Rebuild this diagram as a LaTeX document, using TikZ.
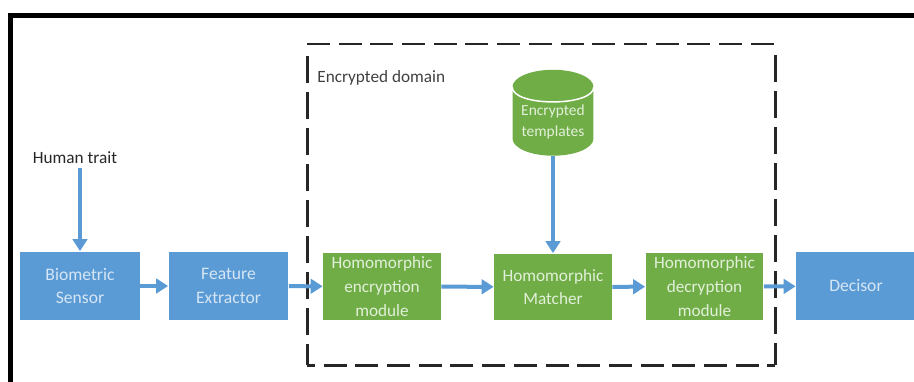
\documentclass[tikz,border=0pt]{standalone}
\usepackage{fontspec}
\setmainfont{Carlito}
\usetikzlibrary{arrows.meta,shapes.geometric}
\definecolor{boxblue}{HTML}{5B9BD5}
\definecolor{boxgreen}{HTML}{70AD47}
\definecolor{lightblue}{HTML}{D6E6F5}
\definecolor{lightgreen}{HTML}{E2F0D9}
\tikzset{
  bluebox/.style={fill=boxblue,text=lightblue,minimum height=1.38cm,minimum width=2.4cm,align=center,inner sep=0pt,font=\fontsize{10}{13.6}\selectfont},
  greenbox/.style={fill=boxgreen,text=lightgreen,minimum height=1.34cm,minimum width=2.36cm,align=center,inner sep=0pt,font=\fontsize{9.8}{13.5}\selectfont},
  flow/.style={draw=boxblue,line width=0.08cm,-{Triangle[width=0.29cm,length=0.24cm]}},
  hdash/.style={line width=0.06cm,color=black!85,dash pattern=on 0.46cm off 0.174cm},
  vdash/.style={line width=0.06cm,color=black!85,dash pattern=on 0.54cm off 0.18cm},
}
\begin{document}
\begin{tikzpicture}[x=0.02cm,y=-0.02cm]
\useasboundingbox (0,0) rectangle (914,382);
% outer frame, cut off at the right and at the bottom
\draw[line width=0.1cm] (10.5,382)--(10.5,15.5)--(914,15.5);
% encrypted domain
\draw[hdash] (307,44)--(775,44);
\draw[hdash,dash phase=0.3cm] (307,365)--(775,365);
\draw[vdash] (307,56)--(307,365);
\draw[vdash] (775,55)--(775,365);
\node[anchor=west,inner sep=0pt,text=black!75,font=\fontsize{9.8}{12}\selectfont] (domain) at (317,78) {Encrypted domain};
\node[inner sep=0pt,text=black!85,font=\fontsize{9.8}{12}\selectfont] (trait) at (75,158) {Human trait};
\coordinate (traitend) at (80,168);
% blocks
\node[bluebox] (sensor) at (80,286) {Biometric\\Sensor};
\node[bluebox] (extractor) at (228.5,286) {Feature\\Extractor};
\node[greenbox] (encmod) at (382,286.5) {Homomorphic\\encryption\\module};
\node[greenbox] (matcher) at (553,287) {Homomorphic\\Matcher};
\node[greenbox] (decmod) at (704.5,286.5) {Homomorphic\\decryption\\module};
\node[bluebox] (decisor) at (856,286) {Decisor};
\node[cylinder,shape border rotate=90,aspect=0.54,fill=boxgreen,text=lightgreen,minimum width=1.62cm,minimum height=1.5cm,inner sep=0pt,align=center,font=\fontsize{8.8}{11.9}\selectfont] (store) at (553,121.5) {Encrypted\\templates};
\draw[white,line width=0.03cm] (store.before top) .. controls +(0,20) and +(0,20) .. (store.after top);
% arrows
\draw[flow] (traitend)--(sensor);
\draw[flow] (sensor)--(extractor);
\draw[flow] (extractor)--(encmod);
\draw[flow] (encmod)--(matcher);
\draw[flow] (matcher)--(decmod);
\draw[flow] (decmod.east)--(decisor);
\draw[flow] (store)--(matcher);
\end{tikzpicture}
\end{document}
